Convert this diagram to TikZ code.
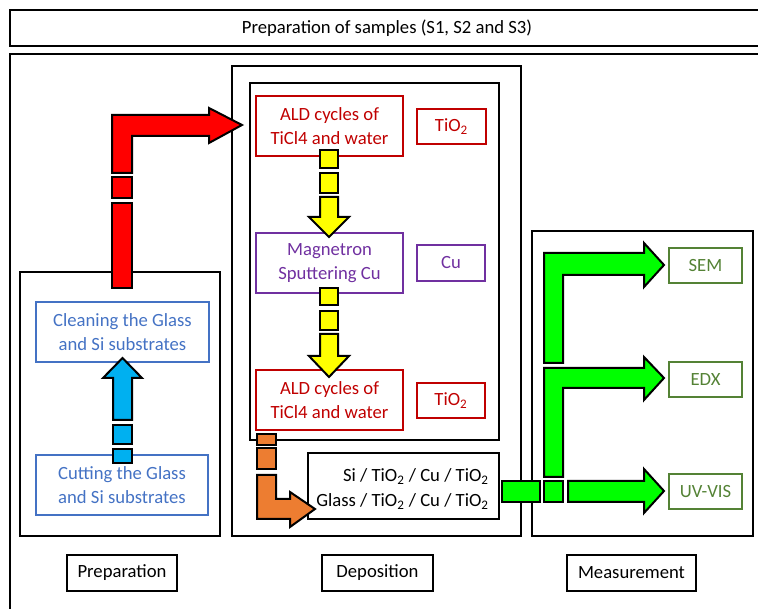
\documentclass[tikz,border=0pt]{standalone}
\usepackage{fontspec}
\setmainfont{Carlito}
\usetikzlibrary{fit}
\definecolor{cred}{HTML}{C00000}
\definecolor{cpurple}{HTML}{7030A0}
\definecolor{cblue}{HTML}{4472C4}
\definecolor{cgreen}{HTML}{548235}
\definecolor{fred}{HTML}{FF0000}
\definecolor{fyellow}{HTML}{FFFF00}
\definecolor{fblue}{HTML}{00B0F0}
\definecolor{forange}{HTML}{ED7D31}
\definecolor{fgreen}{HTML}{00FF00}
\tikzset{
  frame/.style={draw=black, line width=1.6pt, inner sep=0pt},
  cbox/.style={draw=#1, line width=1.5pt, inner sep=0pt},
  lbl/.style={inner sep=0pt, align=center, font=\fontsize{14}{18.5}\selectfont},
  clbl/.style={lbl, text=#1},
  barrow/.style={fill=#1, draw=black, line width=1.5pt, line join=miter},
}
\begin{document}
\begin{tikzpicture}[x=0.75pt,y=-0.75pt]
\useasboundingbox (0,0) rectangle (758,609);
% frames
\node[frame, fit={(10,10) (790,46)}] (title) {};
\node[lbl] at (387,28) {Preparation of samples (S1, S2 and S3)};
\node[frame, fit={(10,54) (790,640)}] (outer) {};
\node[frame, fit={(20,272) (220,536)}] (prep) {};
\node[frame, fit={(232,66) (521,536)}] (dep) {};
\node[frame, fit={(250,83) (499,440)}] (depin) {};
\node[frame, fit={(532,231) (753,536)}] (meas) {};
% preparation
\node[cbox=cblue, fit={(36,302) (209,362)}] (clean) {};
\node[clbl=cblue] at (clean.center) {Cleaning the Glass\\and Si substrates};
\node[cbox=cblue, fit={(36,455) (208,515)}] (cut) {};
\node[clbl=cblue] at (cut.center) {Cutting the Glass\\and Si substrates};
% deposition
\node[cbox=cred, fit={(256,96) (403,156)}] (ald1) {};
\node[clbl=cred] at (ald1.center) {ALD cycles of\\TiCl4 and water};
\node[cbox=cred, fit={(417,109) (486,144)}] (tio1) {};
\node[clbl=cred] at (tio1.center) {TiO\textsubscript{2}};
\node[cbox=cpurple, fit={(256,233) (403,293)}] (mag) {};
\node[clbl=cpurple] at (mag.center) {Magnetron\\Sputtering Cu};
\node[cbox=cpurple, fit={(417,245) (485,281)}] (cu) {};
\node[clbl=cpurple] at (cu.center) {Cu};
\node[cbox=cred, fit={(256,370) (403,430)}] (ald2) {};
\node[clbl=cred] at (ald2.center) {ALD cycles of\\TiCl4 and water};
\node[cbox=cred, fit={(417,383) (485,418)}] (tio2) {};
\node[clbl=cred] at (tio2.center) {TiO\textsubscript{2}};
\node[frame, fit={(308,453) (499,519)}] (samp) {};
\node[lbl, align=right, anchor=east] at (489,489) {Si / TiO\textsubscript{2} / Cu / TiO\textsubscript{2}\\Glass / TiO\textsubscript{2} / Cu / TiO\textsubscript{2}};
% measurement
\node[cbox=cgreen, fit={(669,248) (742,283)}] (sem) {};
\node[clbl=cgreen] at (sem.center) {SEM};
\node[cbox=cgreen, fit={(669,362) (742,397)}] (edx) {};
\node[clbl=cgreen] at (edx.center) {EDX};
\node[cbox=cgreen, fit={(669,474) (742,509)}] (uv) {};
\node[clbl=cgreen] at (uv.center) {UV-VIS};
% bottom labels
\node[frame, fit={(67,555) (177,591)}] (lprep) {};
\node[lbl] at (lprep.center) {Preparation};
\node[frame, fit={(322,555) (433,591)}] (ldep) {};
\node[lbl] at (ldep.center) {Deposition};
\node[frame, fit={(567,555) (696,591)}] (lmeas) {};
\node[lbl] at (lmeas.center) {Measurement};
% red arrow
\draw[barrow=fred] (112,173) -- (112,115) -- (209,115) -- (209,108) -- (242,125) -- (209,143) -- (209,136) -- (132,136) -- (132,173) -- cycle;
\draw[barrow=fred] (112,177) rectangle (132,198);
\draw[barrow=fred] (112,203) rectangle (132,288);
% blue arrow
\draw[barrow=fblue] (113,420) -- (113,378) -- (103,378) -- (122.5,358) -- (142,378) -- (132,378) -- (132,420) -- cycle;
\draw[barrow=fblue] (113,425) rectangle (132,444);
\draw[barrow=fblue] (113,449) rectangle (132,463);
% yellow arrows
\draw[barrow=fyellow] (320,150) rectangle (338,168);
\draw[barrow=fyellow] (320,173) rectangle (338,193);
\draw[barrow=fyellow] (320,197) -- (320,217) -- (309,217) -- (329,237) -- (349,217) -- (338,217) -- (338,197) -- cycle;
\draw[barrow=fyellow] (320,288) rectangle (338,305);
\draw[barrow=fyellow] (320,311) rectangle (338,330);
\draw[barrow=fyellow] (320,334) -- (320,356) -- (309,356) -- (329,377) -- (349,356) -- (338,356) -- (338,334) -- cycle;
% orange arrow
\draw[barrow=forange] (257,434) rectangle (276,445);
\draw[barrow=forange] (257,448) rectangle (276,469);
\draw[barrow=forange] (257,475) -- (257,519) -- (290,519) -- (290,527) -- (315,509) -- (290,492) -- (290,499) -- (276,499) -- (276,475) -- cycle;
% green arrows
\draw[barrow=fgreen] (544,363) -- (544,253) -- (644,253) -- (644,243) -- (664,265) -- (644,287) -- (644,275) -- (563,275) -- (563,363) -- cycle;
\draw[barrow=fgreen] (544,477) -- (544,368) -- (644,368) -- (644,357) -- (664,378) -- (644,400) -- (644,388) -- (563,388) -- (563,477) -- cycle;
\draw[barrow=fgreen] (502,481) rectangle (540,502);
\draw[barrow=fgreen] (544,481) rectangle (563,502);
\draw[barrow=fgreen] (568,481) -- (644,481) -- (644,469) -- (664,491) -- (644,513) -- (644,502) -- (568,502) -- cycle;
\end{tikzpicture}
\end{document}
